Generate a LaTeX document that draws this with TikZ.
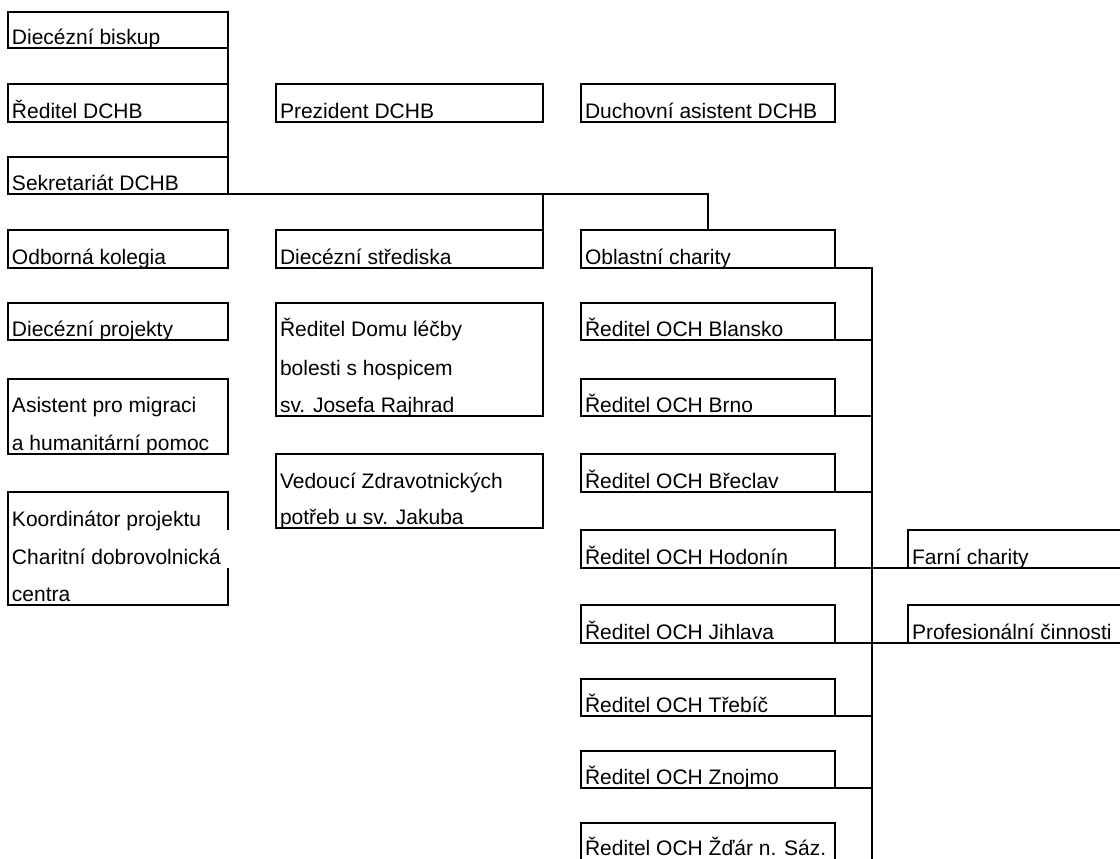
\documentclass[tikz,border=0pt]{standalone}
\usepackage{fontspec}
\setmainfont{Liberation Sans}
\newcommand\mkbox[5]{\node[box, minimum width={(#4-#2)*1pt}, minimum height={(#5-#3)*1pt}] (#1) at (#2,#3) {};}
\newcommand\mkbx[5]{\node[nobox, minimum width={(#4-#2)*1pt}, minimum height={(#5-#3)*1pt}] (#1) at (#2,#3) {};}
\newcommand\lab[4]{\node[lbl] (#1) at (#2+4,#3-4) {#4};}
\begin{document}
\begin{tikzpicture}[x=1pt,y=-1pt, line width=2pt,
  box/.style={draw, rectangle, inner sep=0pt, outer sep=0pt, anchor=north west},
  nobox/.style={rectangle, inner sep=0pt, outer sep=0pt, anchor=north west},
  lbl/.style={anchor=base west, inner sep=0pt, outer sep=0pt, font=\fontsize{21}{25}\selectfont},
  conn/.style={line width=2pt}]
\useasboundingbox (0,0) rectangle (1120,859);
\clip (0,0) rectangle (1120,859);

% boxes
\mkbox{biskup}{8}{12}{228}{48.5}
\mkbox{reditel}{8}{84}{228}{122}
\mkbox{sekret}{8}{157}{228}{194}
\mkbox{prezident}{276}{84}{543}{122}
\mkbox{duchovni}{581}{84}{835}{122}
\mkbox{kolegia}{8}{230}{228}{268}
\mkbox{strediska}{276}{230}{543}{268}
\mkbox{oblastni}{581}{230}{835}{268}
\mkbox{projekty}{8}{303}{228}{340}
\mkbox{asistent}{8}{379}{228}{454}
\mkbx{koord}{8}{492}{228}{605}
\mkbox{domu}{276}{303}{543}{416}
\mkbox{vedouci}{276}{454}{543}{528}
\mkbox{blansko}{581}{303}{835}{340}
\mkbox{brno}{581}{379}{835}{416}
\mkbox{breclav}{581}{454}{835}{492}
\mkbox{hodonin}{581}{530}{835}{568}
\mkbox{jihlava}{581}{605}{835}{643}
\mkbox{trebic}{581}{679}{835}{716}
\mkbox{znojmo}{581}{751}{835}{788}
\mkbox{zdar}{581}{823}{835}{864}
\mkbox{farni}{908}{530}{1135}{568}
\mkbox{prof}{908}{605}{1135}{643}

% Koordinator box border with gap where text overflows
\coordinate (gapT) at (228,530);
\coordinate (gapB) at (228,568);
\draw (gapT) -- (koord.north east) -- (koord.north west) -- (koord.south west) -- (koord.south east) -- (gapB);

% labels
\lab{t1}{8}{48.5}{Diecézní biskup}
\lab{t2}{8}{122}{Ředitel DCHB}
\lab{t3}{8}{194}{Sekretariát DCHB}
\lab{t4}{276}{122}{Prezident DCHB}
\lab{t5}{581}{122}{Duchovní asistent DCHB}
\lab{t6}{8}{268}{Odborná kolegia}
\lab{t7}{276}{268}{Diecézní střediska}
\lab{t8}{581}{268}{Oblastní charity}
\lab{t9}{8}{340}{Diecézní projekty}
\lab{t10a}{8}{416}{Asistent pro migraci}
\lab{t10b}{8}{454}{a humanitární pomoc}
\lab{t11a}{8}{530}{Koordinátor projektu}
\lab{t11b}{8}{568}{Charitní dobrovolnická}
\lab{t11c}{8}{605}{centra}
\lab{t12a}{276}{340}{Ředitel Domu léčby}
\lab{t12b}{276}{379}{bolesti s hospicem}
\lab{t12c}{276}{416}{sv. Josefa Rajhrad}
\lab{t13a}{276}{492}{Vedoucí Zdravotnických}
\lab{t13b}{276}{528}{potřeb u sv. Jakuba}
\lab{t14}{581}{340}{Ředitel OCH Blansko}
\lab{t15}{581}{416}{Ředitel OCH Brno}
\lab{t16}{581}{492}{Ředitel OCH Břeclav}
\lab{t17}{581}{568}{Ředitel OCH Hodonín}
\lab{t18}{581}{643}{Ředitel OCH Jihlava}
\lab{t19}{581}{716}{Ředitel OCH Třebíč}
\lab{t20}{581}{788}{Ředitel OCH Znojmo}
\lab{t21}{581}{859}{Ředitel OCH Žďár n. Sáz.}
\lab{t22}{908}{568}{Farní charity}
\lab{t23}{908}{643}{Profesionální činnosti}

% connectors
\coordinate (busend) at (872,864);
\draw[conn] (biskup.north east) -- (sekret.south east);
\draw[conn] (sekret.south east) -| (oblastni.north);
\draw[conn] (strediska.north east) -- (strediska.north east |- sekret.south east);
\draw[conn] (oblastni.south east) -| (busend);
\foreach \n in {blansko,brno,breclav,hodonin,jihlava,trebic,znojmo}
  \draw[conn] (\n.south east) -- (\n.south east -| busend);
\draw[conn] (farni.south west) -- (farni.south west -| busend);
\draw[conn] (prof.south west) -- (prof.south west -| busend);
\end{tikzpicture}
\end{document}
